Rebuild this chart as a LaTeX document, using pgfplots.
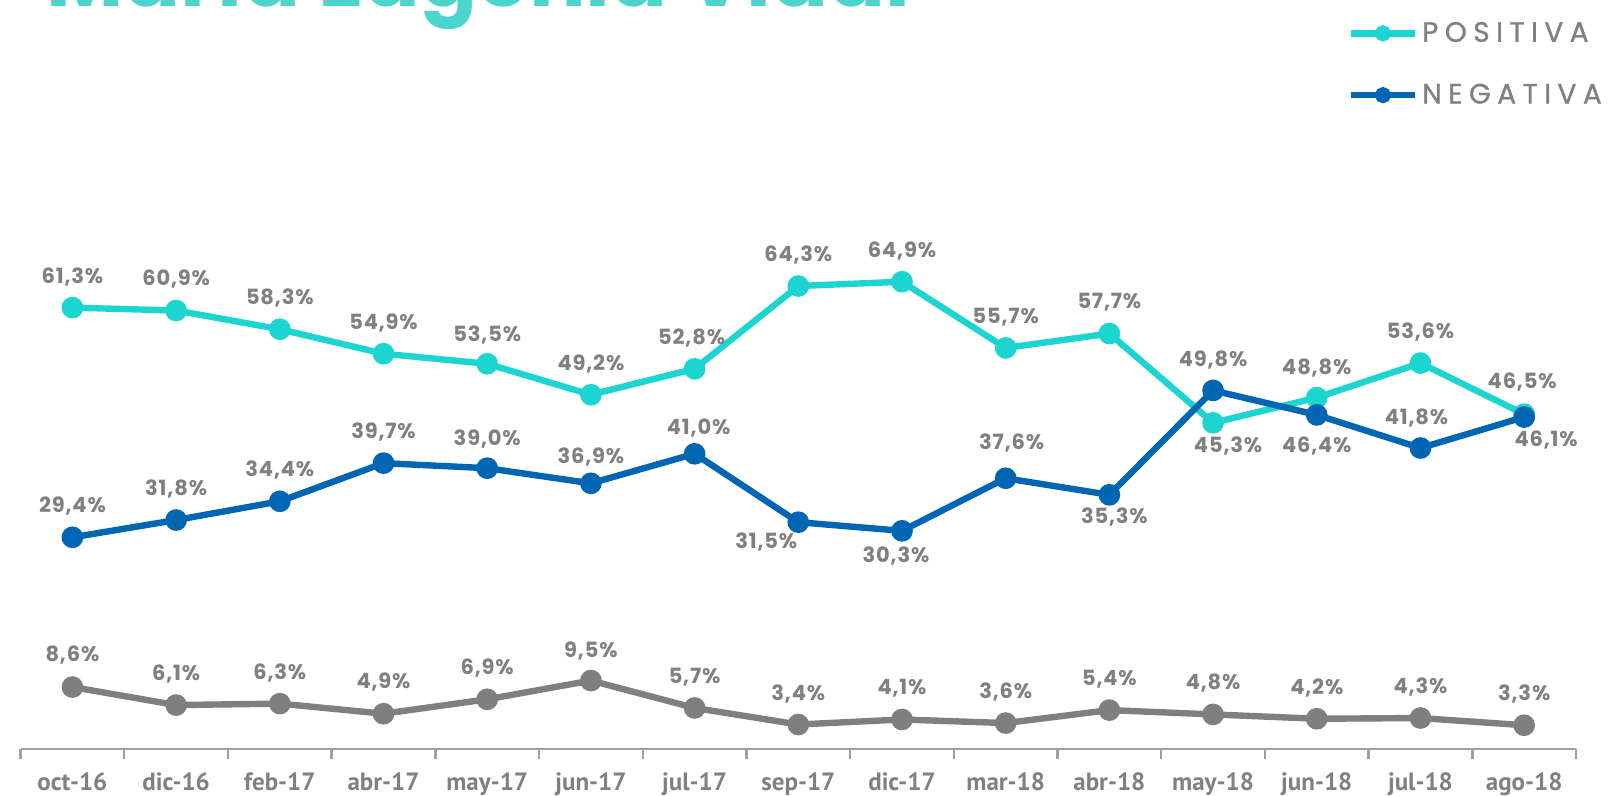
\documentclass[border=0pt]{standalone}
\usepackage{fontspec}
\setmainfont{Poppins}
\newfontfamily\tickfont{PT Sans}
\newfontfamily\legfont[LetterSpace=23, FakeBold=1]{Poppins}
\newfontfamily\labfont[LetterSpace=4]{Poppins}
\usepackage{pgfplots}
\pgfplotsset{compat=1.18}
\usepackage{pgfplotstable}
\definecolor{cpos}{HTML}{1DD5D0}
\definecolor{cneg}{HTML}{0066B3}
\definecolor{cns}{HTML}{7F7F7F}
\definecolor{clab}{HTML}{808080}
\definecolor{cttl}{HTML}{4DD4CD}
\definecolor{caxis}{HTML}{A0A0A0}

\pgfplotstableread{
x y xs ys lab
0 61.3 0 15.5 61,3
1 60.9 0 15.5 60,9
2 58.3 0 15.5 58,3
3 54.9 0 15.5 54,9
4 53.5 0 14.5 53,5
5 49.2 0 15.5 49,2
6 52.8 -1.5 15.5 52,8
7 64.3 0 15.5 64,3
8 64.9 0 15.5 64,9
9 55.7 0 15.5 55,7
10 57.7 0 15.5 57,7
11 45.3 7.5 -11.5 45,3
12 48.8 0 15 48,8
13 53.6 0 15.5 53,6
14 46.5 -1 16 46,5
}\tpos

\pgfplotstableread{
x y xs ys lab
0 29.4 0 15.5 29,4
1 31.8 0 15.5 31,8
2 34.4 0 15.5 34,4
3 39.7 0 15.5 39,7
4 39.0 0 14.5 39,0
5 36.9 0 13 36,9
6 41.0 2 13 41,0
7 31.5 -16 -10 31,5
8 30.3 -3 -12.5 30,3
9 37.6 3 17.5 37,6
10 35.3 2.5 -11 35,3
11 49.8 0 15 49,8
12 46.4 0 -15.5 46,4
13 41.8 -2 15 41,8
14 46.1 11 -11.5 46,1
}\tneg

\pgfplotstableread{
x y xs ys lab
0 8.6 0 16 8,6
1 6.1 0 15.5 6,1
2 6.3 0 15.5 6,3
3 4.9 0 16 4,9
4 6.9 0 15.5 6,9
5 9.5 0 15 9,5
6 5.7 0 15.5 5,7
7 3.4 0 15.5 3,4
8 4.1 0 15.5 4,1
9 3.6 0 15.5 3,6
10 5.4 0 15.5 5,4
11 4.8 0 15.5 4,8
12 4.2 0 15.5 4,2
13 4.3 0 15.5 4,3
14 3.3 0 15.5 3,3
}\tns

\begin{document}
\begin{tikzpicture}
\path (0,0) rectangle (807.5pt,398pt);
\begin{axis}[
  at={(10.3pt,23.5pt)}, anchor=south west,
  scale only axis, width=777.7pt, height=360pt,
  xmin=-0.5, xmax=14.5, ymin=0, ymax=100,
  clip=false,
  hide y axis,
  axis x line*=bottom,
  x axis line style={caxis, line width=1.2pt, -},
  xtick={0,...,14},
  xticklabels={oct-16,dic-16,feb-17,abr-17,may-17,jun-17,jul-17,sep-17,dic-17,mar-18,abr-18,may-18,jun-18,jul-18,ago-18},
  major tick length=0pt,
  minor xtick={-0.5,0.5,...,14.5},
  minor tick length=5pt,
  tick align=outside,
  minor tick style={caxis, line width=1.2pt},
  xticklabel style={overlay, inner sep=0pt, font=\tickfont\bfseries\fontsize{12.5}{15}\selectfont, text=clab, yshift=-11.5pt},
  point meta=explicit symbolic,
  nodes near coords={\pgfplotspointmeta\%},
  visualization depends on={\thisrow{xs} \as \lxs},
  visualization depends on={\thisrow{ys} \as \lys},
  every node near coord/.append style={font=\labfont\bfseries\fontsize{10.5}{12}\selectfont, text=clab, anchor=center, xshift=\lxs*1pt, yshift=\lys*1pt},
  legend style={at={(axis description cs:0.853,0.951)}, anchor=west, draw=none, fill=none,
    font=\legfont\fontsize{14}{16}\selectfont, text=clab, row sep=15.5pt, inner sep=0pt},
  legend cell align=left,
  legend image code/.code={\draw[#1, mark size=2.4pt, mark repeat=2, mark phase=2] plot coordinates {(0pt,0pt) (16pt,0pt) (32pt,0pt)};},
]
\addplot[cpos, line width=3.2pt, mark=*, mark size=3.8pt] table[x=x, y=y, meta=lab] {\tpos};
\addlegendentry{POSITIVA}
\addplot[cneg, line width=3.2pt, mark=*, mark size=3.8pt] table[x=x, y=y, meta=lab] {\tneg};
\addlegendentry{NEGATIVA}
\addplot[cns, line width=3.2pt, mark=*, mark size=3.8pt] table[x=x, y=y, meta=lab] {\tns};
\end{axis}
\node[overlay, anchor=base west, inner sep=0pt, text=cttl, font=\bfseries\fontsize{42}{48}\selectfont] at (23pt,394.5pt) {María Eugenia Vidal};
\end{tikzpicture}
\end{document}
